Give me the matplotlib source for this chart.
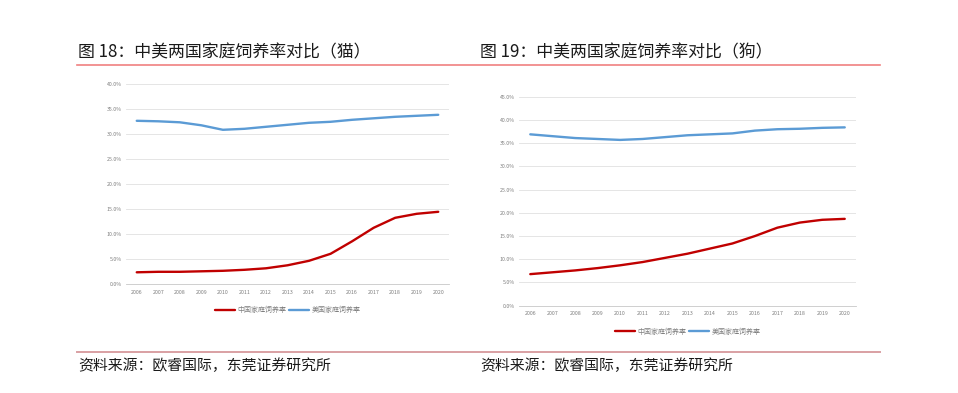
import matplotlib
matplotlib.use("Agg")
import matplotlib.pyplot as plt
from matplotlib.ticker import FuncFormatter

plt.rcParams['font.family'] = ['Noto Sans CJK SC', 'DejaVu Sans']

# data
years = ['2006', '2007', '2008', '2009', '2010', '2011', '2012', '2013',
         '2014', '2015', '2016', '2017', '2018', '2019', '2020']

# cats (%)
cat_china = [2.4, 2.5, 2.5, 2.6, 2.7, 2.9, 3.2, 3.8, 4.7, 6.1, 8.6, 11.3, 13.3, 14.1, 14.5]
cat_usa = [32.7, 32.6, 32.4, 31.8, 30.9, 31.1, 31.5, 31.9, 32.3, 32.5, 32.9, 33.2, 33.5, 33.7, 33.9]

# dogs (%)
dog_china = [6.8, 7.2, 7.6, 8.1, 8.7, 9.4, 10.3, 11.2, 12.3, 13.4, 15.0, 16.8, 17.9, 18.5, 18.7]
dog_usa = [36.9, 36.5, 36.1, 35.9, 35.7, 35.9, 36.3, 36.7, 36.9, 37.1, 37.7, 38.0, 38.1, 38.3, 38.4]

series_names = ['中国家庭饲养率', '美国家庭饲养率']
titles = ['图 18：中美两国家庭饲养率对比（猫）', '图 19：中美两国家庭饲养率对比（狗）']
source = '资料来源：欧睿国际，东莞证券研究所'

RED = '#C00000'
BLUE = '#5B9BD5'
GRID = '#E0E0E0'
TICK = '#7F7F7F'

fig = plt.figure(figsize=(9.58, 3.93), dpi=100)


def draw_panel(rect, china, usa, ymax, legend_y):
    ax = fig.add_axes(rect)
    x = range(len(years))
    ax.plot(x, china, color=RED, lw=1.7, label=series_names[0], solid_capstyle='round')
    ax.plot(x, usa, color=BLUE, lw=1.7, label=series_names[1], solid_capstyle='round')
    ax.set_xlim(-0.5, len(years) - 0.5)
    ax.set_ylim(0, ymax)
    ax.set_yticks(range(0, ymax + 1, 5))
    ax.yaxis.set_major_formatter(FuncFormatter(lambda v, p: f'{v:.1f}%'))
    ax.set_xticks(list(x))
    ax.set_xticklabels(years)
    ax.grid(axis='y', color=GRID, lw=0.6)
    ax.set_axisbelow(True)
    for s in ['top', 'right', 'left']:
        ax.spines[s].set_visible(False)
    ax.spines['bottom'].set_color('#C8C8C8')
    ax.spines['bottom'].set_linewidth(0.6)
    ax.tick_params(length=0, labelsize=3.8, colors=TICK, pad=4)
    ax.tick_params(axis='y', pad=3)
    ax.legend(loc='center', bbox_to_anchor=(0.5, legend_y), ncol=2, frameon=False,
              fontsize=5, labelcolor=TICK, handlelength=3, handletextpad=0.3,
              columnspacing=0.3)
    return ax


draw_panel([0.1315, 0.2766, 0.3372, 0.5089], cat_china, cat_usa, 40, -0.13)
draw_panel([0.5418, 0.2221, 0.3517, 0.5318], dog_china, dog_usa, 45, -0.125)

# titles and header rule
fig.text(78 / 958, 1 - 52 / 393, titles[0], fontsize=12.2, va='center', ha='left', color='#1a1a1a')
fig.text(480 / 958, 1 - 52 / 393, titles[1], fontsize=12.2, va='center', ha='left', color='#1a1a1a')
fig.add_artist(plt.Line2D([77 / 958, 880 / 958], [1 - 64.5 / 393] * 2, color='#F08080', lw=1.2))

# bottom rule and source
fig.add_artist(plt.Line2D([77 / 958, 880 / 958], [1 - 351.5 / 393] * 2, color='#D9A0A3', lw=1.4))
fig.text(78 / 958, 1 - 366 / 393, source, fontsize=10.7, va='center', ha='left', color='#1a1a1a')
fig.text(480 / 958, 1 - 366 / 393, source, fontsize=10.7, va='center', ha='left', color='#1a1a1a')

fig.savefig('out.png', dpi=100)
